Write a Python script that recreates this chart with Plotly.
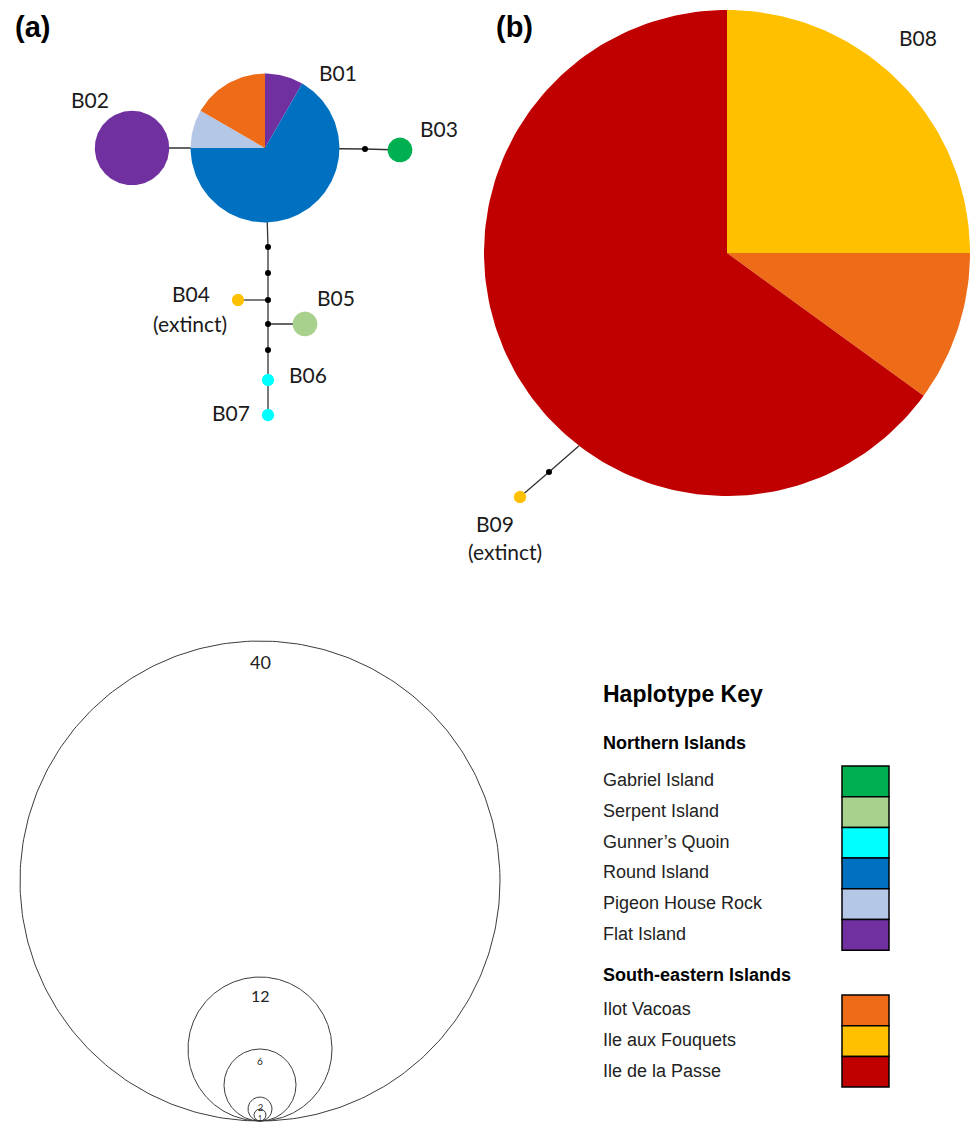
import numpy as np
import plotly.graph_objects as go

W, H = 971, 1123

# ---- populations (legend order) and their colours ----
northern_islands = ["Gabriel Island", "Serpent Island", "Gunner\u2019s Quoin",
                    "Round Island", "Pigeon House Rock", "Flat Island"]
northern_colors = ["#00B050", "#A9D18E", "#00FFFF", "#0070C0", "#B4C7E7", "#7030A0"]
south_eastern_islands = ["Ilot Vacoas", "Ile aux Fouquets", "Ile de la Passe"]
south_eastern_colors = ["#EE6C18", "#FFC000", "#C00000"]

# ---- haplotype composition: sampled individuals per population ----
# (slices run clockwise from 12 o'clock in the listed order)
b01_pops = ["Flat Island", "Round Island", "Pigeon House Rock", "Ilot Vacoas"]
b01_counts = [1, 8, 1, 2]
b02_pops = ["Flat Island"]
b02_counts = [6]
b03_pops = ["Gabriel Island"]
b03_counts = [2]
b04_pops = ["Ile aux Fouquets"]
b04_counts = [1]
b05_pops = ["Serpent Island"]
b05_counts = [2]
b06_pops = ["Gunner\u2019s Quoin"]
b06_counts = [1]
b07_pops = ["Gunner\u2019s Quoin"]
b07_counts = [1]
b08_pops = ["Ile aux Fouquets", "Ilot Vacoas", "Ile de la Passe"]
b08_counts = [10, 4, 26]
b09_pops = ["Ile aux Fouquets"]
b09_counts = [1]

haplotypes = ["B01", "B02", "B03", "B04", "B05", "B06", "B07", "B08", "B09"]
extinct_haplotypes = ["B04", "B09"]

# circle-size key (number of individuals)
scale_counts = [40, 12, 6, 2, 1]

# ---------------------------------------------------------------------------
# page layout (pixel positions)
composition = {
    "B01": (b01_pops, b01_counts), "B02": (b02_pops, b02_counts),
    "B03": (b03_pops, b03_counts), "B04": (b04_pops, b04_counts),
    "B05": (b05_pops, b05_counts), "B06": (b06_pops, b06_counts),
    "B07": (b07_pops, b07_counts), "B08": (b08_pops, b08_counts),
    "B09": (b09_pops, b09_counts),
}
color_of = dict(zip(northern_islands + south_eastern_islands,
                    northern_colors + south_eastern_colors))

node_xy = {"B01": (265, 148), "B02": (132, 148), "B03": (400, 150),
           "B04": (238, 300), "B05": (305, 324), "B06": (268, 380),
           "B07": (268, 415), "B08": (727, 253), "B09": (520, 497)}
px_per_individual = {"B01": 6.2, "B02": 6.2, "B03": 6.2, "B04": 6.2, "B05": 6.2,
                     "B06": 6.2, "B07": 6.2, "B08": 6.075, "B09": 6.2}
median_xy = {"m1": (365, 149), "m2": (268, 247), "m3": (268, 273),
             "m4": (268, 300), "m5": (268, 324), "m6": (268, 350),
             "m7": (549, 472)}
# B09 joins the B08 pie on its rim at this screen angle (degrees, y down)
b08_attach_deg = 127.5

label_xy = {"B01": (338, 72), "B02": (90, 99), "B03": (439, 128),
            "B04": (191, 293), "B05": (336, 297), "B06": (308, 374),
            "B07": (231, 412), "B08": (918, 37), "B09": (495, 523)}
extinct_xy = {"B04": (190, 323), "B09": (505, 551)}

def radius(h):
    return px_per_individual[h] * sum(composition[h][1])

pts = dict(node_xy)
pts.update(median_xy)
cx8, cy8 = node_xy["B08"]
a = np.radians(b08_attach_deg)
pts["B08rim"] = (cx8 + radius("B08") * np.cos(a), cy8 + radius("B08") * np.sin(a))

edges = [("B02", "B01"), ("B01", "m1"), ("m1", "B03"),
         ("B01", "m2"), ("m2", "m3"), ("m3", "m4"), ("m4", "m5"),
         ("m5", "m6"), ("m6", "B06"), ("B06", "B07"),
         ("B04", "m4"), ("m5", "B05"),
         ("B09", "m7"), ("m7", "B08rim")]

fig = go.Figure()

# network edges
ex, ey = [], []
for p, q in edges:
    ex += [pts[p][0], pts[q][0], None]
    ey += [pts[p][1], pts[q][1], None]
fig.add_trace(go.Scatter(x=ex, y=ey, mode="lines",
                         line=dict(color="#333333", width=1.3),
                         hoverinfo="skip", showlegend=False))

# haplotype pies
def pie_slices(h):
    cx, cy = node_xy[h]
    r = radius(h)
    pops, counts = composition[h]
    total = float(sum(counts))
    start = 0.0
    for pop, n in zip(pops, counts):
        span = 2 * np.pi * n / total
        t = np.linspace(start, start + span, max(8, int(240 * n / total) + 2))
        xs = cx + r * np.sin(t)
        ys = cy - r * np.cos(t)
        if len(pops) > 1:
            xs = np.concatenate([[cx], xs, [cx]])
            ys = np.concatenate([[cy], ys, [cy]])
        fig.add_trace(go.Scatter(x=xs, y=ys, mode="lines", fill="toself",
                                 fillcolor=color_of[pop],
                                 line=dict(width=0, color=color_of[pop]),
                                 name=pop, hoverinfo="name", showlegend=False))
        start += span

for h in haplotypes:
    pie_slices(h)

# median vectors
fig.add_trace(go.Scatter(x=[v[0] for v in median_xy.values()],
                         y=[v[1] for v in median_xy.values()],
                         mode="markers", marker=dict(color="black", size=6),
                         hoverinfo="skip", showlegend=False))

# circle-size key: nested circles sharing one bottom point
key_base = (260, 1121)
key_px = 6.0
key_font = [18, 16, 10, 9, 7]
t = np.linspace(0, 2 * np.pi, 361)
annotations = []
for n, fs in zip(scale_counts, key_font):
    r = key_px * n
    cy = key_base[1] - r
    fig.add_trace(go.Scatter(x=key_base[0] + r * np.cos(t), y=cy + r * np.sin(t),
                             mode="lines", line=dict(color="#3c3c3c", width=1),
                             hoverinfo="skip", showlegend=False))
    annotations.append(dict(x=key_base[0], y=cy - r + 1.1 * fs + 1, text=str(n),
                            font=dict(family="Lato", size=fs, color="#222222")))

# node labels
lab_font = dict(family="Lato", size=21, color="#1a1a1a")
for h in haplotypes:
    annotations.append(dict(x=label_xy[h][0], y=label_xy[h][1], text=h, font=lab_font))
for h in extinct_haplotypes:
    annotations.append(dict(x=extinct_xy[h][0], y=extinct_xy[h][1],
                            text="(extinct)", font=lab_font))

# panel letters
letter_font = dict(family="Liberation Sans", size=29, color="black")
annotations.append(dict(x=32, y=27, text="<b>(a)</b>", font=letter_font))
annotations.append(dict(x=514, y=27, text="<b>(b)</b>", font=letter_font))

# haplotype key
key_left = 601
sw_x0, sw_x1 = 842, 889
row_h = 30.7
annotations.append(dict(x=key_left, y=694, text="<b>Haplotype Key</b>", xanchor="left",
                        font=dict(family="Liberation Sans", size=23, color="black")))
shapes = []
item_font = dict(family="Liberation Sans", size=18, color="#222222")
head_font = dict(family="Liberation Sans", size=18, color="black")
for title, title_y, names, cols, top in [
        ("Northern Islands", 743, northern_islands, northern_colors, 766),
        ("South-eastern Islands", 975, south_eastern_islands, south_eastern_colors, 995)]:
    annotations.append(dict(x=key_left, y=title_y, text="<b>%s</b>" % title,
                            xanchor="left", font=head_font))
    for i, (nm, col) in enumerate(zip(names, cols)):
        y0 = top + i * row_h
        shapes.append(dict(type="rect", xref="x", yref="y", x0=sw_x0, x1=sw_x1,
                           y0=y0, y1=y0 + row_h, fillcolor=col,
                           line=dict(color="black", width=1.5)))
        annotations.append(dict(x=key_left, y=y0 + row_h / 2 - 1, text=nm,
                                xanchor="left", font=item_font))

for an in annotations:
    an.update(xref="x", yref="y", showarrow=False)
    an.setdefault("xanchor", "center")
    an.setdefault("yanchor", "middle")

fig.update_layout(
    width=W, height=H, margin=dict(l=0, r=0, t=0, b=0),
    paper_bgcolor="white", plot_bgcolor="white",
    xaxis=dict(range=[0, W], visible=False, fixedrange=True),
    yaxis=dict(range=[H, 0], visible=False, fixedrange=True),
    annotations=annotations, shapes=shapes, showlegend=False,
)

fig.write_html("out.html")
